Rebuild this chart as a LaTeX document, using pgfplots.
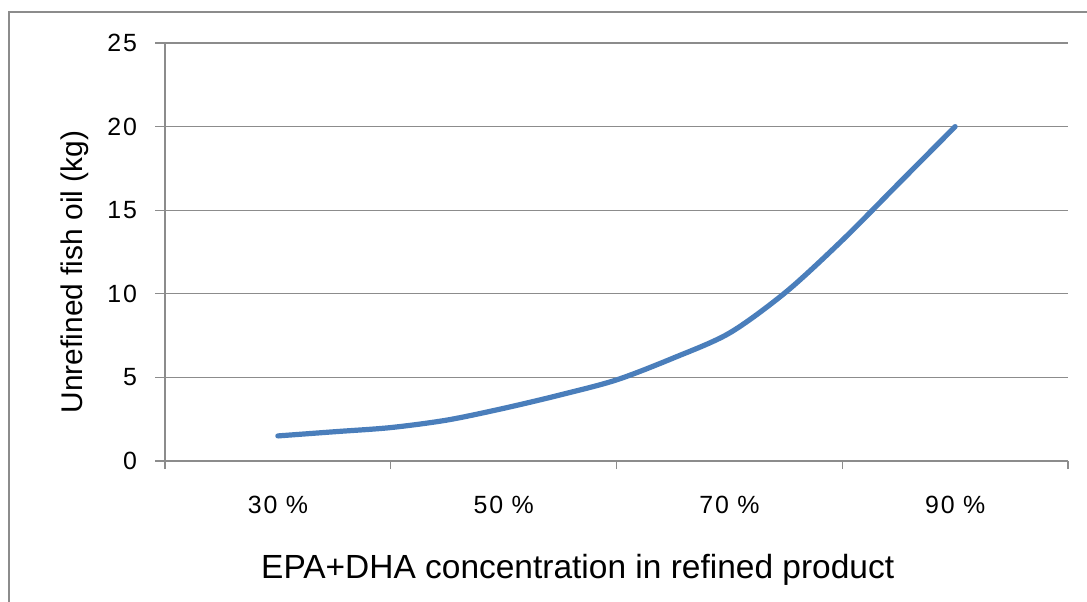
\documentclass[border=0pt]{standalone}
\usepackage{fontspec}
\setmainfont{Liberation Sans}
\usepackage{pgfplots}
\pgfplotsset{compat=1.18}
\definecolor{lineblue}{HTML}{4A7EBB}
\definecolor{gridgray}{HTML}{8C8C8C}
\begin{document}
\begin{tikzpicture}[x=1bp,y=1bp]
\useasboundingbox (0,0) rectangle (543.5,300.5);
\draw[gridgray, line width=1.2bp] (4.5,-2) -- (4.5,294.5) -- (545,294.5);
\begin{axis}[
    at={(82.5bp,70bp)}, anchor=south west,
    scale only axis,
    width=451.5bp, height=209bp,
    xmin=20, xmax=100,
    ymin=0, ymax=25,
    axis x line*=bottom, axis y line*=left,
    axis line style={gridgray, line width=0.6bp, -},
    xtick={30,50,70,90},
    xticklabels={30\,\,\%,50\,\,\%,70\,\,\%,90\,\,\%},
    minor xtick={20,40,60,80,100},
    ytick={0,5,10,15,20,25},
    ymajorgrids,
    major grid style={gridgray, line width=0.6bp},
    tick align=outside,
    major x tick style={draw=none},
    major y tick style={gridgray, line width=0.6bp},
    minor tick style={gridgray, line width=0.6bp},
    major tick length=5bp, minor tick length=4bp,
    /pgf/number format/assume math mode=true,
    ticklabel style={font=\fontsize{12.5}{14}\selectfont\addfontfeatures{LetterSpace=8}},
    yticklabel style={xshift=-5.5bp},
    xticklabel style={yshift=-9bp},
    xlabel={EPA+DHA concentration in refined product},
    ylabel={Unrefined fish oil (kg)},
    xlabel style={font=\fontsize{16.8}{19}\selectfont, at={(axis description cs:0.457,-0.261)}, anchor=center},
    ylabel style={font=\fontsize{15}{18}\selectfont, at={(axis description cs:-0.1,0.452)}, anchor=center, rotate=0},
]
\addplot[lineblue, line width=2.6bp, smooth, tension=0.5, line cap=round] coordinates {
    (30, 1.50)
    (35, 1.75)
    (40, 2.00)
    (45, 2.45)
    (50, 3.15)
    (55, 3.95)
    (60, 4.85)
    (65, 6.15)
    (70, 7.65)
    (75, 10.1)
    (80, 13.2)
    (85, 16.6)
    (90, 20.0)
};
\end{axis}
\end{tikzpicture}
\end{document}
